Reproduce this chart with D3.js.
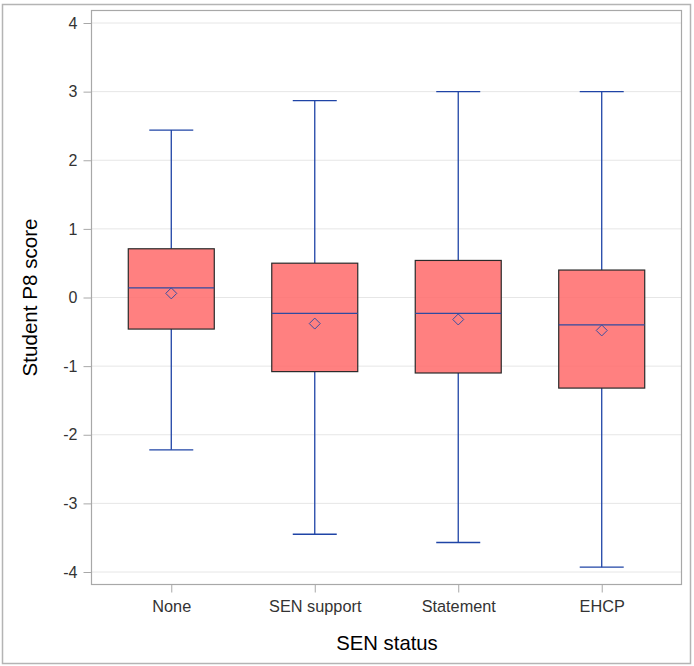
<!DOCTYPE html>
<html>
<head>
<meta charset="utf-8">
<script src="https://cdn.jsdelivr.net/npm/d3@7"></script>
<style>
  html, body { margin: 0; padding: 0; background: #fff; }
  svg { display: block; }
  text { font-family: "Liberation Sans", Arial, sans-serif; }
</style>
</head>
<body>
<svg id="chart" width="694" height="666"></svg>
<script>
// ---- data ----
const categories = ["None", "SEN support", "Statement", "EHCP"];
const whiskerHigh = [2.44, 2.87, 3.00, 3.00];
const q3Values    = [0.71, 0.50, 0.54, 0.40];
const medians     = [0.14, -0.23, -0.23, -0.40];
const means       = [0.06, -0.38, -0.32, -0.48];
const q1Values    = [-0.46, -1.08, -1.10, -1.32];
const whiskerLow  = [-2.22, -3.45, -3.57, -3.93];
const yTicks = [-4, -3, -2, -1, 0, 1, 2, 3, 4];
const yTickLabels = ["-4", "-3", "-2", "-1", "0", "1", "2", "3", "4"];
const xTitle = "SEN status";
const yTitle = "Student P8 score";

const svg = d3.select("#chart");
const plot = { left: 91.5, right: 681.5, top: 10.5, bottom: 584.5 };

const x = d3.scalePoint().domain(categories).range([plot.left, plot.right]).padding(0.556);
const y = d3.scaleLinear().domain([-4, 4]).range([572, 23]);

// outer frame
svg.append("rect").attr("x", 2.5).attr("y", 4.5).attr("width", 688).attr("height", 659)
  .attr("fill", "#fff").attr("stroke", "#b4b4b4").attr("stroke-width", 1.5);

// gridlines
svg.append("g").selectAll("line").data(yTicks).join("line")
  .attr("x1", plot.left).attr("x2", plot.right)
  .attr("y1", d => y(d)).attr("y2", d => y(d))
  .attr("stroke", "#e6e6e6").attr("stroke-width", 1);

const data = categories.map((c, i) => ({
  c, hi: whiskerHigh[i], q3: q3Values[i], med: medians[i], mean: means[i], q1: q1Values[i], lo: whiskerLow[i]
}));

const boxHalf = 43, capHalf = 22;
const blue = "#1f44a6";
const g = svg.append("g");

// whiskers
g.selectAll(".stemHi").data(data).join("line")
  .attr("x1", d => x(d.c)).attr("x2", d => x(d.c))
  .attr("y1", d => y(d.hi)).attr("y2", d => y(d.q3))
  .attr("stroke", blue).attr("stroke-width", 1.3);
g.selectAll(".stemLo").data(data).join("line")
  .attr("x1", d => x(d.c)).attr("x2", d => x(d.c))
  .attr("y1", d => y(d.q1)).attr("y2", d => y(d.lo))
  .attr("stroke", blue).attr("stroke-width", 1.3);
g.selectAll(".capHi").data(data).join("line")
  .attr("x1", d => x(d.c) - capHalf).attr("x2", d => x(d.c) + capHalf)
  .attr("y1", d => y(d.hi)).attr("y2", d => y(d.hi))
  .attr("stroke", blue).attr("stroke-width", 1.3);
g.selectAll(".capLo").data(data).join("line")
  .attr("x1", d => x(d.c) - capHalf).attr("x2", d => x(d.c) + capHalf)
  .attr("y1", d => y(d.lo)).attr("y2", d => y(d.lo))
  .attr("stroke", blue).attr("stroke-width", 1.3);

// boxes
g.selectAll(".box").data(data).join("rect")
  .attr("x", d => x(d.c) - boxHalf).attr("width", boxHalf * 2)
  .attr("y", d => y(d.q3)).attr("height", d => y(d.q1) - y(d.q3))
  .attr("fill", "rgb(255,106,106)").attr("fill-opacity", 0.85)
  .attr("stroke", "#2a2a2a").attr("stroke-width", 1.2);

// medians
g.selectAll(".med").data(data).join("line")
  .attr("x1", d => x(d.c) - boxHalf).attr("x2", d => x(d.c) + boxHalf)
  .attr("y1", d => y(d.med)).attr("y2", d => y(d.med))
  .attr("stroke", "#2f4aa0").attr("stroke-width", 1.3);

// means (diamond)
g.selectAll(".mean").data(data).join("path")
  .attr("d", d => {
    const cx = x(d.c), cy = y(d.mean), r = 5.5;
    return `M${cx},${cy - r}L${cx + r},${cy}L${cx},${cy + r}L${cx - r},${cy}Z`;
  })
  .attr("fill", "none").attr("stroke", "#3b4fa0").attr("stroke-width", 1);

// plot frame
svg.append("rect").attr("x", plot.left).attr("y", plot.top)
  .attr("width", plot.right - plot.left).attr("height", plot.bottom - plot.top)
  .attr("fill", "none").attr("stroke", "#a8a8a8").attr("stroke-width", 1.2);

// y axis
const yAxis = svg.append("g").attr("transform", `translate(${plot.left},0)`)
  .call(d3.axisLeft(y).tickValues(yTicks).tickSize(8).tickPadding(6)
    .tickFormat((d, i) => yTickLabels[i]));
yAxis.select(".domain").remove();
yAxis.selectAll(".tick line").attr("stroke", "#a8a8a8");
yAxis.selectAll(".tick text").attr("fill", "#333").style("font-size", "16px")
  .style("font-family", "'Liberation Sans', Arial, sans-serif");

// x axis
const xAxis = svg.append("g").attr("transform", `translate(0,${plot.bottom})`)
  .call(d3.axisBottom(x).tickSize(8).tickPadding(8));
xAxis.select(".domain").remove();
xAxis.selectAll(".tick line").attr("stroke", "#a8a8a8");
xAxis.selectAll(".tick text").attr("fill", "#333").style("font-size", "16.3px")
  .style("font-family", "'Liberation Sans', Arial, sans-serif");

// axis titles
svg.append("text").attr("x", (plot.left + plot.right) / 2 + 0.5).attr("y", 650)
  .attr("text-anchor", "middle").attr("fill", "#000").style("font-size", "20.3px").text(xTitle);
svg.append("text").attr("transform", `translate(37,${(plot.top + plot.bottom) / 2}) rotate(-90)`)
  .attr("text-anchor", "middle").attr("fill", "#000").style("font-size", "20.6px").text(yTitle);
</script>
</body>
</html>
